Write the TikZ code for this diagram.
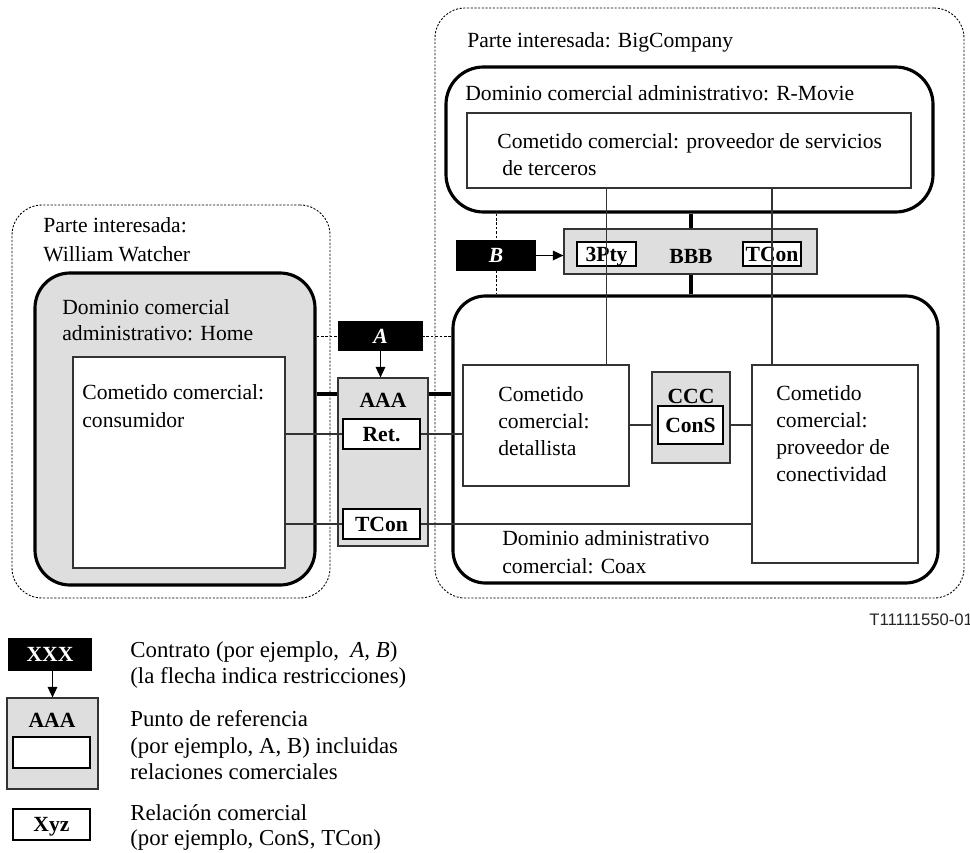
\documentclass[tikz,border=0pt]{standalone}
\usepackage{fontspec}
\setmainfont{Liberation Serif}
\newfontfamily\sansf{Liberation Sans}
\usetikzlibrary{fit,arrows.meta}
\definecolor{fillg}{gray}{0.87}
\definecolor{linec}{gray}{0.2}
\begin{document}
\begin{tikzpicture}[x=0.02cm,y=-0.02cm,
  txt/.style={anchor=base west,inner sep=0,font=\fontsize{12.3}{15}\selectfont},
  ltxt/.style={anchor=base west,inner sep=0,font=\fontsize{13}{15}\selectfont},
  bt/.style={anchor=base,inner sep=0,font=\fontsize{12.3}{15}\selectfont\bfseries},
  ctr/.style={bt,yshift=-4pt},
  wt/.style={ctr,text=white,font=\fontsize{12.3}{15}\selectfont\bfseries\itshape},
  party/.style={draw,line width=0.5pt,dash pattern=on 1.2pt off 0.9pt,inner sep=0,rounded corners=0.6cm},
  dombox/.style={draw,line width=1.8pt,inner sep=0,rounded corners=0.7cm},
  rolebox/.style={draw=linec,line width=0.7pt,fill=white,inner sep=0},
  refbox/.style={draw=linec,line width=0.7pt,fill=fillg,inner sep=0},
  relbox/.style={draw=black,line width=0.7pt,fill=white,inner sep=0},
  contract/.style={fill=black,inner sep=0},
  thickl/.style={line width=1.8pt},
  thinl/.style={draw=linec,line width=0.7pt},
  dashl/.style={line width=0.5pt,dash pattern=on 1.5pt off 1pt},
  arr/.style={line width=0.7pt,-{Triangle[length=6pt,width=5.5pt]}}
]
\useasboundingbox (0,0) rectangle (970,852);

% parties
\node[party,fit={(12,205)(330,598)}] (pl) {};
\node[party,fit={(435,8)(964,598)}] (pr) {};
\node[txt] (tpl1) at (43,232) {Parte interesada:};
\node[txt] (tpl2) at (43,261) {William Watcher};
\node[txt] (tpr) at (467,47) {Parte interesada: BigCompany};

% domains
\node[dombox,fill=fillg,fit={(35,273)(315,585)}] (home) {};
\node[txt] (th1) at (62,314) {Dominio comercial};
\node[txt] (th2) at (62,340) {administrativo: Home};
\node[rolebox,fit={(73,357)(285,568)}] (cons) {};
\node[txt] (tc1) at (82,399) {Cometido comercial:};
\node[txt] (tc2) at (82,427) {consumidor};

\node[dombox,fill=white,fit={(446,67)(933,212)},rounded corners=0.75cm] (rmovie) {};
\node[txt] (trm) at (465,100) {Dominio comercial administrativo: R-Movie};
\node[rolebox,fit={(467,113)(911,188)}] (tp) {};
\node[txt] (ttp1) at (497,148) {Cometido comercial: proveedor de servicios};
\node[txt] (ttp2) at (502,175) {de terceros};

\node[dombox,fill=white,fit={(453,296)(938,583)},rounded corners=0.65cm] (coax) {};
\node[txt] (tco1) at (502,545) {Dominio administrativo};
\node[txt] (tco2) at (502,573) {comercial: Coax};
\node[rolebox,fit={(463,365)(629,486)}] (det) {};
\node[txt] (td1) at (498,401) {Cometido};
\node[txt] (td2) at (498,428) {comercial:};
\node[txt] (td3) at (498,455) {detallista};
\node[rolebox,fit={(752,365)(918,563)}] (conn) {};
\node[txt] (tn1) at (776,400) {Cometido};
\node[txt] (tn2) at (776,427) {comercial:};
\node[txt] (tn3) at (776,454) {proveedor de};
\node[txt] (tn4) at (776,481) {conectividad};

% dashed contract links (behind the contract boxes)
\coordinate (ay) at (0,336);
\coordinate (bx) at (496,0);
\draw[dashl] (home.east |- ay) -- (coax.west |- ay);
\draw[dashl] (bx |- rmovie.south) -- (bx |- coax.north);
\node[contract,fit={(338,321)(423,351)}] (ca) {};
\node[wt] (tca) at (ca.center) {A};
\node[contract,fit={(456,240)(536,271)}] (cb) {};
\node[wt] (tcb) at (cb.center) {B};

% thick connectors
\coordinate (hy) at (0,394);
\coordinate (vx) at (691,0);
\draw[thickl] (home.east |- hy) -- (coax.west |- hy);
\draw[thickl] (vx |- rmovie.south) -- (vx |- coax.north);

% reference points
\node[refbox,fit={(338,378)(428,546)}] (aaa) {};
\node[bt] (taaa) at (383,407) {AAA};
\node[relbox,fit={(343,419)(420,449)}] (ret) {};
\node[ctr] (tret) at (ret.center) {Ret.};
\node[relbox,fit={(343,509)(420,539)}] (tcon1) {};
\node[ctr] (ttcon1) at (tcon1.center) {TCon};

\node[refbox,fit={(564,229)(817,274)}] (bbb) {};
\node[bt] (tbbb) at (691,263) {BBB};
\node[relbox,fit={(577,242)(636,266)}] (p3) {};
\node[ctr] (tp3) at (p3.center) {3Pty};
\node[relbox,fit={(743,242)(801,266)}] (tcon2) {};
\node[ctr] (ttcon2) at (tcon2.center) {TCon};

\node[refbox,fit={(652,372)(730,463)}] (ccc) {};
\node[bt] (tccc) at (691,403) {CCC};
\node[relbox,fit={(658,406)(723,444)}] (consr) {};
\node[ctr] (tconsr) at (consr.center) {ConS};

% thin connectors
\draw[thinl] (cons.east |- ret) -- (ret.west);
\draw[thinl] (ret.east) -- (det.west |- ret);
\draw[thinl] (cons.east |- tcon1) -- (tcon1.west);
\draw[thinl] (tcon1.east) -- (conn.west |- tcon1);
\draw[thinl] (det.east |- consr) -- (ccc.west |- consr);
\draw[thinl] (ccc.east |- consr) -- (conn.west |- consr);
\draw[thinl] (p3 |- tp.south) -- (p3 |- det.north);
\draw[thinl] (tcon2 |- tp.south) -- (tcon2 |- det.north);

% contract arrows
\draw[arr] (ca.south) -- (ca.south |- aaa.north);
\draw[arr] (cb.east) -- (cb.east -| bbb.west);

% figure id
\node[anchor=base west,inner sep=0,font=\sansf\fontsize{9.5}{11}\selectfont,text=black!85] (fid) at (869,625) {T11111550-01};

% legend
\node[contract,fit={(8,638)(92,671)}] (lxxx) {};
\node[ctr,text=white] (tlxxx) at (lxxx.center) {XXX};
\node[refbox,fit={(7,698)(98,789)}] (laaa) {};
\node[bt] (tlaaa) at (52,727) {AAA};
\node[relbox,fit={(13,737)(90,768)}] (linner) {};
\node[relbox,fit={(13,809)(90,840)}] (lxyz) {};
\node[ctr] (tlxyz) at (lxyz.center) {Xyz};
\draw[arr] (laaa.north |- lxxx.south) -- (laaa.north);

\node[ltxt] (l1) at (130,657) {Contrato (por ejemplo,\ \ \textit{A, B})};
\node[ltxt] (l2) at (130,683) {(la flecha indica restricciones)};
\node[ltxt] (l3) at (130,726) {Punto de referencia};
\node[ltxt] (l4) at (130,753) {(por ejemplo, A, B) incluidas};
\node[ltxt] (l5) at (130,779) {relaciones comerciales};
\node[ltxt] (l6) at (130,820) {Relación comercial};
\node[ltxt] (l7) at (130,845) {(por ejemplo, ConS, TCon)};
\end{tikzpicture}
\end{document}
